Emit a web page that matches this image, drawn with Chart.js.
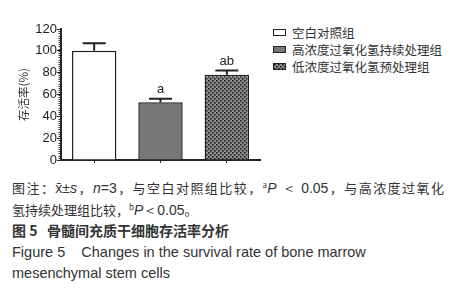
<!DOCTYPE html>
<html>
<head>
<meta charset="utf-8">
<script src="https://cdn.jsdelivr.net/npm/chart.js@4/dist/chart.umd.min.js"></script>
<style>
  html, body { margin: 0; padding: 0; background: #fff; }
  body { width: 464px; height: 300px; position: relative; overflow: hidden;
         font-family: "Liberation Sans", Arial, "Noto Sans CJK SC", sans-serif; color: #2a2a2a; }
  #wrap { position: absolute; left: 0; top: 0; width: 270px; height: 175px; }
  #legend { position: absolute; left: 273px; top: 24px; font-size: 12.5px; line-height: 17px;
            font-family: "Noto Sans CJK SC", sans-serif; color: #333; }
  #legend .row { display: flex; align-items: center; white-space: nowrap; height: 17px; }
  #legend .box { width: 11px; height: 5px; border: 1.5px solid #222; margin-right: 6px; box-sizing: content-box; }
  #caption { position: absolute; left: 12px; top: 177px; width: 432px; color: #333; }
  #caption div { height: 21.5px; line-height: 21.5px; white-space: nowrap; }
  #caption .cn { font-family: "Noto Sans CJK SC", sans-serif; font-size: 13px; }
  #caption .just { text-align: justify; text-align-last: justify; }
  #caption .title { font-weight: bold; font-size: 14px; }
  #caption .en { font-size: 14.5px; }
  #caption .lat { font-family: "Liberation Sans", Arial, sans-serif; font-size: 14px; }
  #caption .sup { font-size: 8px; position: relative; top: -5px; }
</style>
</head>
<body>
<div id="wrap"><canvas id="survivalChart"></canvas></div>
<div id="legend"></div>
<div id="caption">
  <div class="cn just">图注：<span class="lat">x̄±<i>s</i></span>，<span class="lat"><i>n</i>=3</span>，与空白对照组比较，<span class="sup">a</span><span class="lat"><i>P</i> ＜ 0.05</span>，与高浓度过氧化</div>
  <div class="cn">氢持续处理组比较，<span class="sup">b</span><span class="lat"><i>P</i>＜0.05</span>。</div>
  <div class="cn title">图 5&nbsp;&nbsp;&nbsp;骨髓间充质干细胞存活率分析</div>
  <div class="en">Figure 5&nbsp;&nbsp;&nbsp; Changes in the survival rate of bone marrow</div>
  <div class="en">mesenchymal stem cells</div>
</div>
<script>
// groups and values
const groups = ['空白对照组', '高浓度过氧化氢持续处理组', '低浓度过氧化氢预处理组'];
const survival = [100, 53, 78];
const survivalSd = [7, 3, 4];
const sigMarks = ['', 'a', 'ab'];
const yTicks = [0, 20, 40, 60, 80, 100, 120];

// dotted fill for the third group
function makeDotPattern() {
    const c = document.createElement('canvas');
    c.width = 4; c.height = 4;
    const g = c.getContext('2d');
    g.fillStyle = '#8c8c8c';
    g.fillRect(0, 0, 4, 4);
    g.fillStyle = '#111';
    g.fillRect(0, 0, 1.5, 1.5);
    g.fillRect(2, 2, 1.5, 1.5);
    return c;
}
const dotCanvas = makeDotPattern();
const ctx = document.getElementById('survivalChart').getContext('2d');
const dotPattern = ctx.createPattern(dotCanvas, 'repeat');
const fills = ['#ffffff', '#777777', dotPattern];

// legend in html
const legendEl = document.getElementById('legend');
groups.forEach((name, i) => {
    const row = document.createElement('div');
    row.className = 'row';
    const box = document.createElement('span');
    box.className = 'box';
    if (i === 2) box.style.backgroundImage = 'url(' + dotCanvas.toDataURL() + ')';
    else box.style.background = fills[i];
    const txt = document.createElement('span');
    txt.textContent = name;
    row.appendChild(box);
    row.appendChild(txt);
    legendEl.appendChild(row);
});

// error bars (upper only) and significance letters
const errorBarPlugin = {
    id: 'errorBars',
    afterDatasetsDraw(chart) {
        const c = chart.ctx;
        const y = chart.scales.y;
        const meta = chart.getDatasetMeta(0);
        c.save();
        c.strokeStyle = '#222';
        c.lineWidth = 2;
        meta.data.forEach((bar, i) => {
            const top = y.getPixelForValue(survival[i] + survivalSd[i]);
            c.beginPath();
            c.moveTo(bar.x, bar.y);
            c.lineTo(bar.x, top);
            c.moveTo(bar.x - 11.5, top);
            c.lineTo(bar.x + 11.5, top);
            c.stroke();
            if (sigMarks[i]) {
                c.fillStyle = '#222';
                c.font = '13px "Liberation Sans", Arial, sans-serif';
                c.textAlign = 'center';
                c.textBaseline = 'bottom';
                c.fillText(sigMarks[i], bar.x, top - 3);
            }
        });
        c.restore();
    }
};

// minor ticks on the y axis
const minorTickPlugin = {
    id: 'minorTicks',
    afterDraw(chart) {
        const c = chart.ctx;
        const y = chart.scales.y;
        const x0 = chart.chartArea.left;
        c.save();
        c.strokeStyle = '#333';
        c.lineWidth = 1;
        for (let v = 0; v <= 120; v += 2) {
            const py = Math.round(y.getPixelForValue(v)) + 0.5;
            c.beginPath();
            c.moveTo(x0 - 2.5, py);
            c.lineTo(x0, py);
            c.stroke();
        }
        c.restore();
    }
};

new Chart(ctx, {
    type: 'bar',
    data: {
        labels: groups,
        datasets: [{
            data: survival,
            backgroundColor: fills,
            borderColor: '#222',
            borderWidth: 1.5,
            barPercentage: 0.67,
            categoryPercentage: 1
        }]
    },
    options: {
        responsive: true,
        maintainAspectRatio: false,
        animation: false,
        layout: { padding: { top: 29, right: 10, bottom: 12, left: 0 } },
        plugins: {
            legend: { display: false },
            tooltip: { enabled: false }
        },
        scales: {
            x: {
                grid: { drawOnChartArea: false, offset: false, tickLength: 3, color: '#333' },
                border: { color: '#222', width: 2 },
                ticks: { display: false }
            },
            y: {
                min: 0,
                max: 120,
                afterBuildTicks(scale) {
                    scale.ticks = yTicks.map(v => ({ value: v }));
                },
                afterFit(scale) {
                    scale.width = 61;
                },
                grid: { drawOnChartArea: false, tickLength: 4, color: '#222' },
                border: { color: '#222', width: 2 },
                ticks: {
                    padding: 0,
                    color: '#222',
                    font: { family: '"Liberation Sans", Arial, sans-serif', size: 13 }
                },
                title: {
                    display: true,
                    text: '存活率(%)',
                    color: '#333',
                    padding: { top: 17, bottom: 0 },
                    font: { family: '"Noto Sans CJK SC", sans-serif', size: 11.5 }
                }
            }
        }
    },
    plugins: [errorBarPlugin, minorTickPlugin]
});
</script>
</body>
</html>
